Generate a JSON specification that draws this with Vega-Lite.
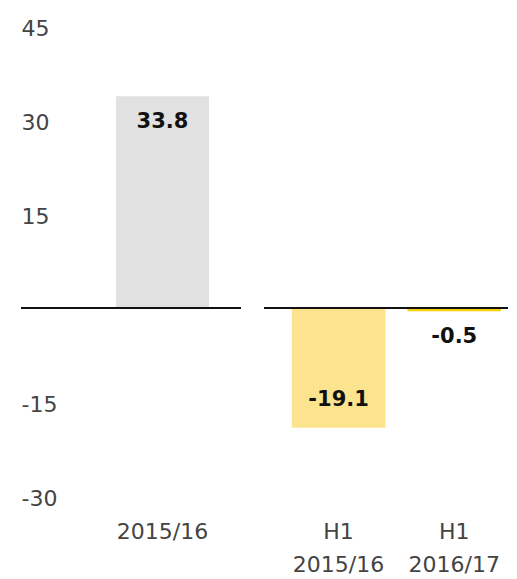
{
  "$schema": "https://vega.github.io/schema/vega-lite/v6.json",
  "padding": {"left": 20, "top": 17, "right": 0, "bottom": 0},
  "background": "white",
  "config": {
    "view": {"stroke": null},
    "font": "DejaVu Sans",
    "axis": {"labelFont": "DejaVu Sans", "labelFontSize": 22, "labelColor": "#444444", "domain": false, "ticks": false, "grid": false, "title": null}
  },
  "datasets": {
    "d": [
      {"period": "2015/16", "value": 33.8, "group": "annual"},
      {"period": "H1 2015/16", "value": -19.1, "group": "half"},
      {"period": "H1 2016/17", "value": -0.5, "group": "half"}
    ]
  },
  "spacing": 21,
  "hconcat": [
    {
      "width": 220,
      "height": 470,
      "data": {"name": "d"},
      "transform": [{"filter": "datum.group == 'annual'"}],
      "encoding": {
        "x": {"field": "period", "type": "nominal", "sort": null,
          "scale": {"paddingInner": 0, "paddingOuter": 0.683, "align": 0.748},
          "axis": {"labelAngle": 0, "labelPadding": 25, "labelExpr": "split(datum.label, ' ')", "labelLineHeight": 33}},
        "y": {"field": "value", "type": "quantitative",
          "scale": {"domain": [-30, 45], "nice": false, "zero": false},
          "axis": {"values": [-30, -15, 15, 30, 45], "labelAlign": "left", "labelPadding": 0, "labelOffset": 2, "labelExpr": "replace(datum.label, '\u2212', '-')"}}
      },
      "layer": [
        {"mark": {"type": "bar", "color": "#e1e1e1"}},
        {"mark": {"type": "rule", "color": "#111111", "strokeWidth": 2}, "encoding": {"x": null, "y": {"datum": 0}}},
        {"mark": {"type": "text", "fontWeight": "bold", "fontSize": 21, "color": "#111111", "dy": 26, "baseline": "middle"},
          "encoding": {"text": {"field": "value", "type": "nominal"}}}
      ]
    },
    {
      "width": 244,
      "height": 470,
      "data": {"name": "d"},
      "transform": [{"filter": "datum.group == 'half'"}],
      "encoding": {
        "x": {"field": "period", "type": "nominal", "sort": null,
          "scale": {"paddingInner": 0.191, "paddingOuter": 0.15, "align": 0.8},
          "axis": {"labelAngle": 0, "labelPadding": 25, "labelExpr": "split(datum.label, ' ')", "labelLineHeight": 33}},
        "y": {"field": "value", "type": "quantitative",
          "scale": {"domain": [-30, 45], "nice": false, "zero": false},
          "axis": null}
      },
      "layer": [
        {"mark": {"type": "bar"},
          "encoding": {"color": {"field": "period", "type": "nominal", "legend": null,
            "scale": {"domain": ["H1 2015/16", "H1 2016/17"], "range": ["#fce48e", "#f6d10a"]}}}},
        {"mark": {"type": "rule", "color": "#111111", "strokeWidth": 2}, "encoding": {"x": null, "y": {"datum": 0}}},
        {"transform": [{"filter": "datum.value < -5"}],
          "mark": {"type": "text", "fontWeight": "bold", "fontSize": 21, "color": "#111111", "dy": -28, "baseline": "middle"},
          "encoding": {"text": {"field": "value", "type": "nominal"}}},
        {"transform": [{"filter": "datum.value >= -5"}],
          "mark": {"type": "text", "fontWeight": "bold", "fontSize": 21, "color": "#111111", "dy": 26, "baseline": "middle"},
          "encoding": {"text": {"field": "value", "type": "nominal"}}}
      ]
    }
  ]
}
